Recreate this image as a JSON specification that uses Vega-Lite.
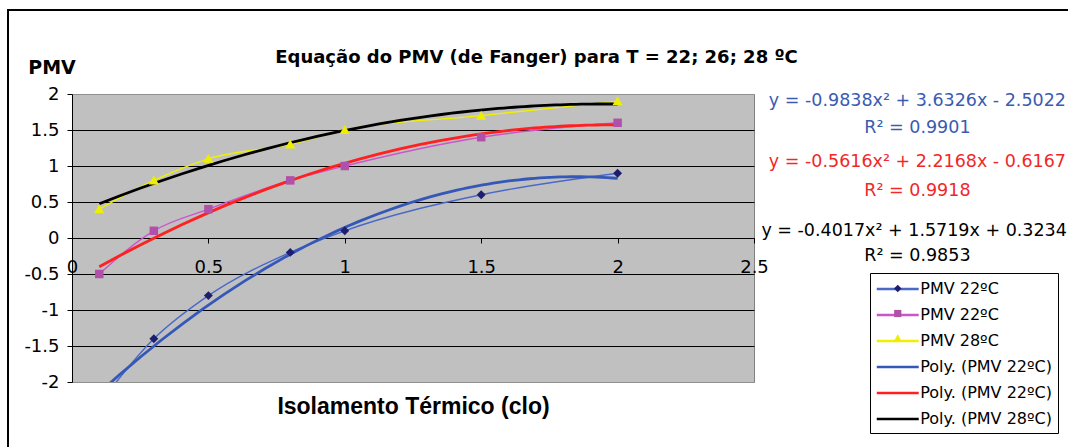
{
  "$schema": "https://vega.github.io/schema/vega-lite/v6.json",
  "autosize": "none",
  "width": 682,
  "height": 288,
  "padding": {"left": 72, "top": 94, "right": 314, "bottom": 65},
  "background": "white",
  "title": {
    "text": "Equação do PMV (de Fanger) para T = 22; 26; 28 ºC",
    "font": "DejaVu Sans", "fontSize": 18, "fontWeight": "bold", "color": "black",
    "anchor": "middle", "dx": 123.5, "offset": 8, "dy": 66
  },
  "config": {
    "view": {"fill": "#C0C0C0", "stroke": "#808080", "strokeWidth": 1},
    "font": "DejaVu Sans",
    "axisX": {
      "labelFlush": false, "labelOverlap": false,
      "labelFont": "DejaVu Sans", "labelFontSize": 18, "labelColor": "black",
      "labelPadding": 15, "tickSize": 5, "tickColor": "black", "tickWidth": 1,
      "domainColor": "black", "domainWidth": 1, "grid": false,
      "titleFont": "Liberation Sans", "titleFontSize": 23, "titleFontWeight": "bold",
      "titleColor": "black", "titleBaseline": "alphabetic", "titleAlign": "center"
    },
    "axisY": {
      "labelFlush": false, "labelOverlap": false,
      "labelFont": "DejaVu Sans", "labelFontSize": 18, "labelColor": "black",
      "labelPadding": 8, "tickSize": 5, "tickColor": "black", "tickWidth": 1,
      "domainColor": "black", "domainWidth": 1,
      "grid": true, "gridWidth": 1, "gridOpacity": 1,
      "titleFont": "DejaVu Sans", "titleFontSize": 19, "titleFontWeight": "bold",
      "titleColor": "black", "titleAngle": 0, "titleAlign": "center", "titleBaseline": "alphabetic"
    }
  },
  "layer": [
    {
      "data": {
        "values": [
          {"clo": 0.1, "pmv": -2.3, "serie": "PMV 22ºC", "trend": "Poly. (PMV 22ºC)"},
          {"clo": 0.3, "pmv": -1.4, "serie": "PMV 22ºC", "trend": "Poly. (PMV 22ºC)"},
          {"clo": 0.5, "pmv": -0.8, "serie": "PMV 22ºC", "trend": "Poly. (PMV 22ºC)"},
          {"clo": 0.8, "pmv": -0.2, "serie": "PMV 22ºC", "trend": "Poly. (PMV 22ºC)"},
          {"clo": 1.0, "pmv": 0.1, "serie": "PMV 22ºC", "trend": "Poly. (PMV 22ºC)"},
          {"clo": 1.5, "pmv": 0.6, "serie": "PMV 22ºC", "trend": "Poly. (PMV 22ºC)"},
          {"clo": 2.0, "pmv": 0.9, "serie": "PMV 22ºC", "trend": "Poly. (PMV 22ºC)"},
          {"clo": 0.1, "pmv": -0.5, "serie": "PMV 26ºC", "trend": "Poly. (PMV 26ºC)"},
          {"clo": 0.3, "pmv": 0.1, "serie": "PMV 26ºC", "trend": "Poly. (PMV 26ºC)"},
          {"clo": 0.5, "pmv": 0.4, "serie": "PMV 26ºC", "trend": "Poly. (PMV 26ºC)"},
          {"clo": 0.8, "pmv": 0.8, "serie": "PMV 26ºC", "trend": "Poly. (PMV 26ºC)"},
          {"clo": 1.0, "pmv": 1.0, "serie": "PMV 26ºC", "trend": "Poly. (PMV 26ºC)"},
          {"clo": 1.5, "pmv": 1.4, "serie": "PMV 26ºC", "trend": "Poly. (PMV 26ºC)"},
          {"clo": 2.0, "pmv": 1.6, "serie": "PMV 26ºC", "trend": "Poly. (PMV 26ºC)"},
          {"clo": 0.1, "pmv": 0.4, "serie": "PMV 28ºC", "trend": "Poly. (PMV 28ºC)"},
          {"clo": 0.3, "pmv": 0.8, "serie": "PMV 28ºC", "trend": "Poly. (PMV 28ºC)"},
          {"clo": 0.5, "pmv": 1.1, "serie": "PMV 28ºC", "trend": "Poly. (PMV 28ºC)"},
          {"clo": 0.8, "pmv": 1.3, "serie": "PMV 28ºC", "trend": "Poly. (PMV 28ºC)"},
          {"clo": 1.0, "pmv": 1.5, "serie": "PMV 28ºC", "trend": "Poly. (PMV 28ºC)"},
          {"clo": 1.5, "pmv": 1.7, "serie": "PMV 28ºC", "trend": "Poly. (PMV 28ºC)"},
          {"clo": 2.0, "pmv": 1.9, "serie": "PMV 28ºC", "trend": "Poly. (PMV 28ºC)"}
        ]
      },
      "encoding": {
        "x": {
          "field": "clo", "type": "quantitative",
          "scale": {"domain": [0, 2.5], "nice": false, "zero": false},
          "axis": {"orient": "bottom", "offset": -144, "values": [0, 0.5, 1, 1.5, 2, 2.5], "labelExpr": "datum.value + ''", "title": "Isolamento Térmico (clo)", "titleX": 341, "titleY": 175}
        },
        "y": {
          "field": "pmv", "type": "quantitative",
          "scale": {"domain": [-2, 2], "nice": false, "zero": false},
          "axis": {"orient": "left", "values": [-2, -1.5, -1, -0.5, 0, 0.5, 1, 1.5, 2], "labelExpr": "datum.value + ''", "title": "PMV", "titleX": -20.5, "titleY": -21,
            "gridColor": {"condition": {"test": "abs(datum.value) == 2", "value": "#909090"}, "value": "black"}}
        }
      },
      "layer": [
        {
          "mark": {"type": "line", "strokeWidth": 1.4, "interpolate": "monotone", "clip": true},
          "encoding": {
            "stroke": {
              "field": "serie", "type": "nominal",
              "scale": {
                "domain": ["PMV 22ºC", "PMV 26ºC", "PMV 28ºC", "Poly. (PMV 22ºC)", "Poly. (PMV 26ºC)", "Poly. (PMV 28ºC)"],
                "range": ["#4A68C8", "#CC55CC", "#F0F000", "#3558B8", "#FF2020", "#000000"]
              },
              "legend": {
                "title": null, "orient": "none", "legendX": 798, "legendY": 179,
                "strokeColor": "black", "fillColor": "white", "padding": 5.5,
                "symbolType": "M-2.33,0H2.33", "symbolSize": 324, "symbolStrokeWidth": 2.5,
                "symbolOffset": 11.75, "labelOffset": 12, "rowPadding": 7,
                "labelFont": "DejaVu Sans", "labelFontSize": 16, "labelColor": "black", "labelLimit": 300,
                "labelExpr": "replace(datum.label, '26', '22')"
              }
            }
          }
        },
        {
          "transform": [
            {"regression": "pmv", "on": "clo", "groupby": ["trend"], "method": "poly", "order": 2}
          ],
          "mark": {"type": "line", "strokeWidth": 2.8, "clip": true},
          "encoding": {
            "stroke": {"field": "trend", "type": "nominal", "legend": null}
          }
        },
        {
          "mark": {"type": "point", "filled": true, "opacity": 1, "size": 450, "clip": true},
          "encoding": {
            "fill": {
              "field": "serie", "type": "nominal",
              "scale": {"domain": ["PMV 22ºC", "PMV 26ºC", "PMV 28ºC"], "range": ["#1E1E6E", "#B050A8", "#EEEE00"]},
              "legend": {
                "title": null, "orient": "none", "legendX": 798, "legendY": 179,
                "strokeColor": "transparent", "fillColor": "transparent", "padding": 5.5,
                "symbolSize": 324, "symbolOffset": 12.25, "labelOffset": 12, "rowPadding": 7,
                "labelFont": "DejaVu Sans", "labelFontSize": 16, "labelColor": "transparent",
                "labelExpr": "''"
              }
            },
            "shape": {
              "field": "serie", "type": "nominal",
              "scale": {
                "domain": ["PMV 22ºC", "PMV 26ºC", "PMV 28ºC"],
                "range": ["M0,-0.42L0.42,0L0,0.42L-0.42,0Z", "M-0.4,-0.4H0.4V0.4H-0.4Z", "M0,-0.46L0.48,0.38L-0.48,0.38Z"]
              },
              "legend": {
                "title": null, "orient": "none", "legendX": 798, "legendY": 179,
                "strokeColor": "transparent", "fillColor": "transparent", "padding": 5.5,
                "symbolSize": 324, "symbolOffset": 12.25, "labelOffset": 12, "rowPadding": 7,
                "labelFont": "DejaVu Sans", "labelFontSize": 16, "labelColor": "transparent",
                "labelExpr": "''"
              }
            }
          }
        }
      ]
    },
    {
      "data": {"values": [{"eq": "y = -0.9838x² + 3.6326x - 2.5022"}]},
      "mark": {"type": "text", "font": "DejaVu Sans", "fontSize": 17.5, "color": "#3A5BB0", "align": "center", "baseline": "alphabetic"},
      "encoding": {
        "text": {"field": "eq"},
        "x": {"datum": 3.099, "type": "quantitative", "scale": {"domain": [0, 2.5], "nice": false, "zero": false}, "axis": {"orient": "bottom", "offset": -144, "values": [0, 0.5, 1, 1.5, 2, 2.5], "labelExpr": "datum.value + ''", "title": "Isolamento Térmico (clo)", "titleX": 341, "titleY": 175}},
        "y": {"datum": 1.8375, "type": "quantitative", "scale": {"domain": [-2, 2], "nice": false, "zero": false}, "axis": {"orient": "left", "values": [-2, -1.5, -1, -0.5, 0, 0.5, 1, 1.5, 2], "labelExpr": "datum.value + ''", "title": "PMV", "titleX": -20.5, "titleY": -21}}
      }
    },
    {
      "data": {"values": [{"eq": "R² = 0.9901"}]},
      "mark": {"type": "text", "font": "DejaVu Sans", "fontSize": 17.5, "color": "#3A5BB0", "align": "center", "baseline": "alphabetic"},
      "encoding": {
        "text": {"field": "eq"},
        "x": {"datum": 3.099, "type": "quantitative", "scale": {"domain": [0, 2.5], "nice": false, "zero": false}, "axis": {"orient": "bottom", "offset": -144, "values": [0, 0.5, 1, 1.5, 2, 2.5], "labelExpr": "datum.value + ''", "title": "Isolamento Térmico (clo)", "titleX": 341, "titleY": 175}},
        "y": {"datum": 1.457, "type": "quantitative", "scale": {"domain": [-2, 2], "nice": false, "zero": false}, "axis": {"orient": "left", "values": [-2, -1.5, -1, -0.5, 0, 0.5, 1, 1.5, 2], "labelExpr": "datum.value + ''", "title": "PMV", "titleX": -20.5, "titleY": -21}}
      }
    },
    {
      "data": {"values": [{"eq": "y = -0.5616x² + 2.2168x - 0.6167"}]},
      "mark": {"type": "text", "font": "DejaVu Sans", "fontSize": 17.5, "color": "#F02828", "align": "center", "baseline": "alphabetic"},
      "encoding": {
        "text": {"field": "eq"},
        "x": {"datum": 3.099, "type": "quantitative", "scale": {"domain": [0, 2.5], "nice": false, "zero": false}, "axis": {"orient": "bottom", "offset": -144, "values": [0, 0.5, 1, 1.5, 2, 2.5], "labelExpr": "datum.value + ''", "title": "Isolamento Térmico (clo)", "titleX": 341, "titleY": 175}},
        "y": {"datum": 0.9806, "type": "quantitative", "scale": {"domain": [-2, 2], "nice": false, "zero": false}, "axis": {"orient": "left", "values": [-2, -1.5, -1, -0.5, 0, 0.5, 1, 1.5, 2], "labelExpr": "datum.value + ''", "title": "PMV", "titleX": -20.5, "titleY": -21}}
      }
    },
    {
      "data": {"values": [{"eq": "R² = 0.9918"}]},
      "mark": {"type": "text", "font": "DejaVu Sans", "fontSize": 17.5, "color": "#F02828", "align": "center", "baseline": "alphabetic"},
      "encoding": {
        "text": {"field": "eq"},
        "x": {"datum": 3.099, "type": "quantitative", "scale": {"domain": [0, 2.5], "nice": false, "zero": false}, "axis": {"orient": "bottom", "offset": -144, "values": [0, 0.5, 1, 1.5, 2, 2.5], "labelExpr": "datum.value + ''", "title": "Isolamento Térmico (clo)", "titleX": 341, "titleY": 175}},
        "y": {"datum": 0.5875, "type": "quantitative", "scale": {"domain": [-2, 2], "nice": false, "zero": false}, "axis": {"orient": "left", "values": [-2, -1.5, -1, -0.5, 0, 0.5, 1, 1.5, 2], "labelExpr": "datum.value + ''", "title": "PMV", "titleX": -20.5, "titleY": -21}}
      }
    },
    {
      "data": {"values": [{"eq": "y = -0.4017x² + 1.5719x + 0.3234"}]},
      "mark": {"type": "text", "font": "DejaVu Sans", "fontSize": 17.5, "color": "black", "align": "center", "baseline": "alphabetic"},
      "encoding": {
        "text": {"field": "eq"},
        "x": {"datum": 3.087, "type": "quantitative", "scale": {"domain": [0, 2.5], "nice": false, "zero": false}, "axis": {"orient": "bottom", "offset": -144, "values": [0, 0.5, 1, 1.5, 2, 2.5], "labelExpr": "datum.value + ''", "title": "Isolamento Térmico (clo)", "titleX": 341, "titleY": 175}},
        "y": {"datum": 0.032, "type": "quantitative", "scale": {"domain": [-2, 2], "nice": false, "zero": false}, "axis": {"orient": "left", "values": [-2, -1.5, -1, -0.5, 0, 0.5, 1, 1.5, 2], "labelExpr": "datum.value + ''", "title": "PMV", "titleX": -20.5, "titleY": -21}}
      }
    },
    {
      "data": {"values": [{"eq": "R² = 0.9853"}]},
      "mark": {"type": "text", "font": "DejaVu Sans", "fontSize": 17.5, "color": "black", "align": "center", "baseline": "alphabetic"},
      "encoding": {
        "text": {"field": "eq"},
        "x": {"datum": 3.099, "type": "quantitative", "scale": {"domain": [0, 2.5], "nice": false, "zero": false}, "axis": {"orient": "bottom", "offset": -144, "values": [0, 0.5, 1, 1.5, 2, 2.5], "labelExpr": "datum.value + ''", "title": "Isolamento Térmico (clo)", "titleX": 341, "titleY": 175}},
        "y": {"datum": -0.325, "type": "quantitative", "scale": {"domain": [-2, 2], "nice": false, "zero": false}, "axis": {"orient": "left", "values": [-2, -1.5, -1, -0.5, 0, 0.5, 1, 1.5, 2], "labelExpr": "datum.value + ''", "title": "PMV", "titleX": -20.5, "titleY": -21}}
      }
    },
    {
      "data": {"values": [{"frame": "outer"}]},
      "mark": {"type": "rect", "fill": "white", "fillOpacity": 0, "stroke": "black", "strokeWidth": 2, "clip": false},
      "encoding": {
        "x": {"datum": -0.2346, "type": "quantitative", "scale": {"domain": [0, 2.5], "nice": false, "zero": false}, "axis": {"orient": "bottom", "offset": -144, "values": [0, 0.5, 1, 1.5, 2, 2.5], "labelExpr": "datum.value + ''", "title": "Isolamento Térmico (clo)", "titleX": 341, "titleY": 175}},
        "x2": {"datum": 5},
        "y": {"datum": 3.1667, "type": "quantitative", "scale": {"domain": [-2, 2], "nice": false, "zero": false}, "axis": {"orient": "left", "values": [-2, -1.5, -1, -0.5, 0, 0.5, 1, 1.5, 2], "labelExpr": "datum.value + ''", "title": "PMV", "titleX": -20.5, "titleY": -21}},
        "y2": {"datum": -5}
      }
    }
  ]
}
